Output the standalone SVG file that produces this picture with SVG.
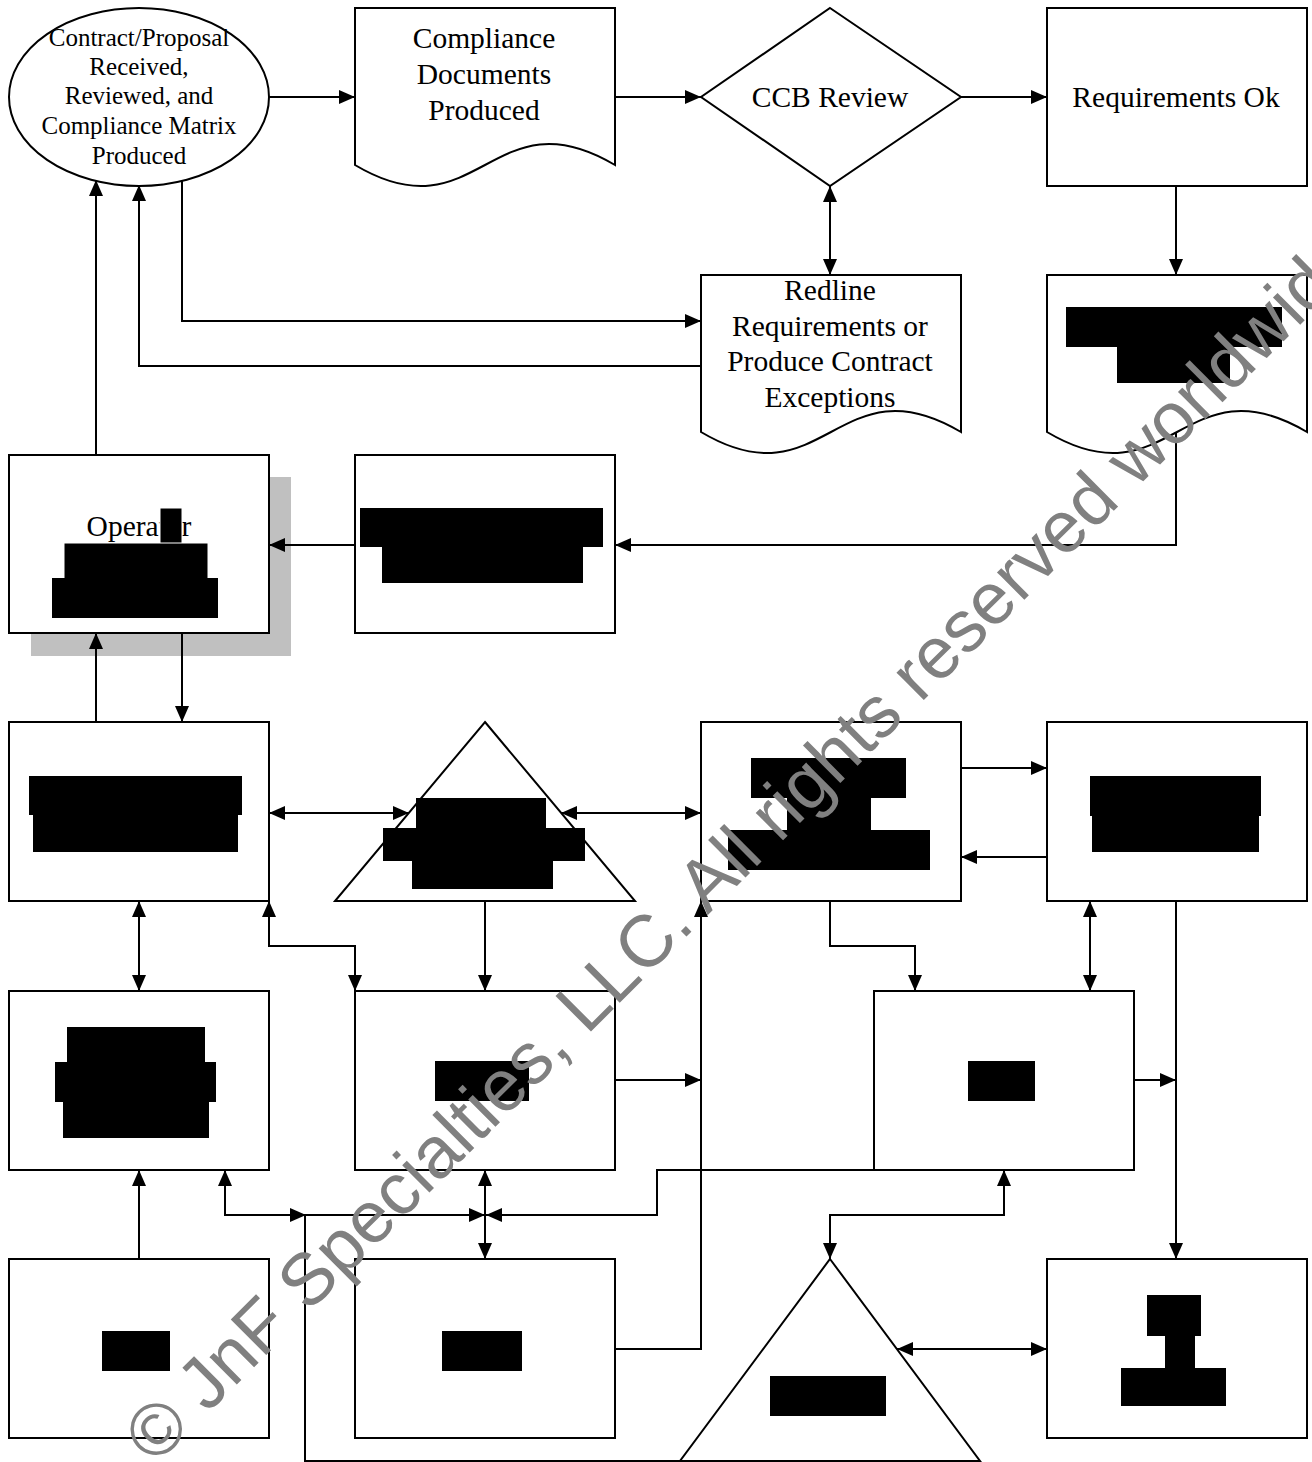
<svg xmlns="http://www.w3.org/2000/svg" width="1312" height="1462" viewBox="0 0 1312 1462">
<defs>
<marker id="ah" markerUnits="userSpaceOnUse" markerWidth="16" markerHeight="14" refX="16" refY="7" orient="auto-start-reverse" viewBox="0 0 16 14">
<path d="M0,0 L16,7 L0,14 Z" fill="#000"/>
</marker>
<style>
.s{fill:#fff;stroke:#000;stroke-width:2}
.t{font-family:"Liberation Serif","Times New Roman",serif;font-size:29.5px;fill:#000;text-anchor:middle}
.te{font-family:"Liberation Serif","Times New Roman",serif;font-size:25px;fill:#000;text-anchor:middle}
.r{fill:#000}
.c{fill:none;stroke:#000;stroke-width:2}
.a{marker-end:url(#ah)}
.b{marker-start:url(#ah);marker-end:url(#ah)}
</style>
</defs>
<rect width="1312" height="1462" fill="#fff"/>

<g id="n1">
<ellipse class="s" cx="139" cy="97" rx="130" ry="89"/>
<text class="te" x="139" y="46">Contract/Proposal</text>
<text class="te" x="139" y="75">Received,</text>
<text class="te" x="139" y="104">Reviewed, and</text>
<text class="te" x="139" y="134">Compliance Matrix</text>
<text class="te" x="139" y="164">Produced</text>
</g>
<g id="n2">
<path class="s" d="M355,8 H615 V165 C492,92 478,238 355,165 Z"/>
<text class="t" x="484" y="48">Compliance</text>
<text class="t" x="484" y="84">Documents</text>
<text class="t" x="484" y="120">Produced</text>
</g>
<g id="n3">
<path class="s" d="M830,8 L961,97 L830,186 L701,97 Z"/>
<text class="t" x="830" y="107">CCB Review</text>
</g>
<g id="n4">
<rect class="s" x="1047" y="8" width="260" height="178"/>
<text class="t" x="1176" y="107">Requirements Ok</text>
</g>
<g id="n5">
<path class="s" d="M701,275 H961 V432 C838,359 824,505 701,432 Z"/>
<text class="t" x="830" y="300">Redline</text>
<text class="t" x="830" y="336">Requirements or</text>
<text class="t" x="830" y="371">Produce Contract</text>
<text class="t" x="830" y="407">Exceptions</text>
</g>
<g id="n6">
<path class="s" d="M1047,275 H1307 V432 C1184,359 1170,505 1047,432 Z"/>
<rect class="r" x="1066" y="307" width="216" height="40"/>
<rect class="r" x="1117" y="347" width="113" height="36"/>
</g>
<g id="n7">
<rect x="31" y="477" width="260" height="179" fill="#c0c0c0"/>
<rect class="s" x="9" y="455" width="260" height="178"/>
<text class="t" x="139" y="536">Operator</text>
<rect class="r" x="160" y="508" width="22" height="36" stroke="#fff" stroke-width="1"/>
<rect class="r" x="64" y="543" width="144" height="36" stroke="#fff" stroke-width="1"/>
<rect class="r" x="52" y="578" width="166" height="40"/>
</g>
<g id="n8">
<rect class="s" x="355" y="455" width="260" height="178"/>
<rect class="r" x="360" y="508" width="243" height="39"/>
<rect class="r" x="382" y="547" width="201" height="36"/>
</g>
<g id="n9">
<rect class="s" x="9" y="722" width="260" height="179"/>
<rect class="r" x="29" y="776" width="213" height="39"/>
<rect class="r" x="33" y="815" width="205" height="37"/>
</g>
<g id="n10">
<path class="s" d="M485,722 L635,901 L335,901 Z"/>
<rect class="r" x="416" y="798" width="130" height="31"/>
<rect class="r" x="383" y="828" width="202" height="33"/>
<rect class="r" x="412" y="860" width="141" height="29"/>
</g>
<g id="n11">
<rect class="s" x="701" y="722" width="260" height="179"/>
<rect class="r" x="751" y="758" width="155" height="40"/>
<rect class="r" x="787" y="797" width="84" height="34"/>
<rect class="r" x="728" y="830" width="202" height="40"/>
</g>
<g id="n12">
<rect class="s" x="1047" y="722" width="260" height="179"/>
<rect class="r" x="1090" y="776" width="171" height="40"/>
<rect class="r" x="1092" y="815" width="167" height="37"/>
</g>
<g id="n13">
<rect class="s" x="9" y="991" width="260" height="179"/>
<rect class="r" x="67" y="1027" width="138" height="36"/>
<rect class="r" x="55" y="1062" width="161" height="40"/>
<rect class="r" x="63" y="1101" width="146" height="37"/>
</g>
<g id="n14">
<rect class="s" x="355" y="991" width="260" height="179"/>
<rect class="r" x="435" y="1061" width="94" height="40"/>
</g>
<g id="n15">
<rect class="s" x="874" y="991" width="260" height="179"/>
<rect class="r" x="968" y="1061" width="67" height="40"/>
</g>
<g id="n16">
<rect class="s" x="9" y="1259" width="260" height="179"/>
<rect class="r" x="102" y="1331" width="68" height="40"/>
</g>
<g id="n17">
<rect class="s" x="355" y="1259" width="260" height="179"/>
<rect class="r" x="442" y="1331" width="80" height="40"/>
</g>
<g id="n18">
<path class="s" d="M830,1259 L980,1461 L680,1461 Z"/>
<rect class="r" x="770" y="1376" width="116" height="40"/>
</g>
<g id="n19">
<rect class="s" x="1047" y="1259" width="260" height="179"/>
<rect class="r" x="1147" y="1295" width="54" height="41"/>
<rect class="r" x="1165" y="1335" width="30" height="34"/>
<rect class="r" x="1121" y="1368" width="105" height="38"/>
</g>

<g id="connectors">
<path class="c a" d="M269,97 H355"/>
<path class="c a" d="M615,97 H701"/>
<path class="c a" d="M961,97 H1047"/>
<path class="c b" d="M830,186 V275"/>
<path class="c a" d="M1176,186 V275"/>
<path class="c a" d="M182,180 V321 H701"/>
<path class="c a" d="M701,366 H139 V185"/>
<path class="c a" d="M96,455 V180"/>
<path class="c a" d="M1176,432 V545 H615"/>
<path class="c a" d="M355,545 H269"/>
<path class="c a" d="M96,722 V633"/>
<path class="c a" d="M182,633 V722"/>
<path class="c b" d="M269,813 H409"/>
<path class="c b" d="M561,813 H701"/>
<path class="c a" d="M961,768 H1047"/>
<path class="c a" d="M1047,857 H961"/>
<path class="c b" d="M139,901 V991"/>
<path class="c b" d="M269,901 V946 H355 V991"/>
<path class="c a" d="M485,901 V991"/>
<path class="c a" d="M830,901 V946 H915 V991"/>
<path class="c b" d="M1090,901 V991"/>
<path class="c a" d="M1176,901 V1259"/>
<path class="c a" d="M615,1080 H701"/>
<path class="c a" d="M1134,1080 H1176"/>
<path class="c a" d="M615,1349 H701 V901"/>
<path class="c a" d="M139,1259 V1170"/>
<path class="c b" d="M225,1170 V1215 H306"/>
<path class="c a" d="M680,1461 H305 V1215 H485"/>
<path class="c b" d="M485,1170 V1259"/>
<path class="c a" d="M874,1170 H657 V1215 H486"/>
<path class="c b" d="M1004,1170 V1215 H830 V1259"/>
<path class="c b" d="M897,1349 H1047"/>
</g>

<text x="0" y="0" transform="translate(155,1466) rotate(-44.9)" font-family="'Liberation Sans',Arial,sans-serif" font-size="73" fill="#808080">© JnF Specialties, LLC. All rights reserved worldwide</text>
</svg>
